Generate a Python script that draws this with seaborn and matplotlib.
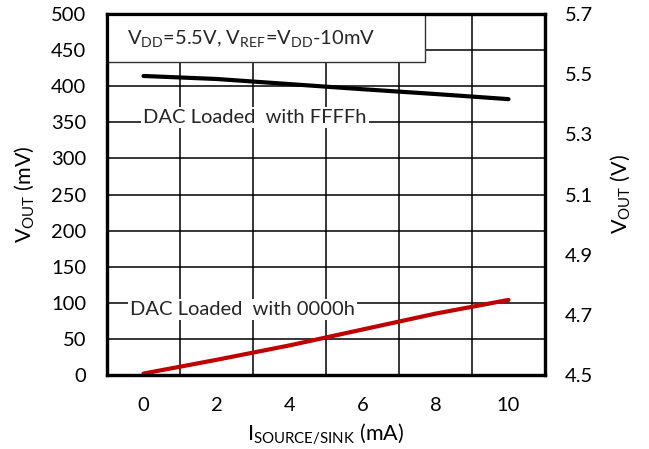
import matplotlib
matplotlib.use("Agg")
import matplotlib.pyplot as plt
import seaborn as sns
import pandas as pd
from matplotlib.patches import Rectangle

# Data
i_ma = [0, 2, 4, 6, 8, 10]
vout_ffff_v = [5.494, 5.484, 5.467, 5.450, 5.434, 5.417]
vout_0000_mv = [2, 21, 41, 63, 85, 104]
x_ticks = [0, 2, 4, 6, 8, 10]
left_ticks = [0, 50, 100, 150, 200, 250, 300, 350, 400, 450, 500]
right_ticks = [4.5, 4.7, 4.9, 5.1, 5.3, 5.5, 5.7]

sns.set_theme(style="white")
plt.rcParams['font.family'] = ['Lato', 'DejaVu Sans']
plt.rcParams['mathtext.fontset'] = 'custom'
plt.rcParams['mathtext.rm'] = 'Lato'
plt.rcParams['mathtext.it'] = 'Lato'
plt.rcParams['mathtext.bf'] = 'Lato'

fig = plt.figure(figsize=(6.49, 4.49), dpi=100)
ax = fig.add_axes([107/649, 1-375/449, 438/649, 361/449])
ax2 = ax.twinx()

df_red = pd.DataFrame({"I": i_ma, "V": vout_0000_mv})
df_blk = pd.DataFrame({"I": i_ma, "V": vout_ffff_v})

sns.lineplot(data=df_red, x="I", y="V", ax=ax, color="#c00000", lw=3.0, zorder=5)
sns.lineplot(data=df_blk, x="I", y="V", ax=ax2, color="black", lw=3.0)

ax.set_xlim(-1, 11)
ax.set_ylim(0, 500)
ax2.set_ylim(4.5, 5.7)
ax.set_xticks(x_ticks)
ax.set_yticks(left_ticks)
ax2.set_yticks(right_ticks)
ax2.set_yticklabels([f"{v:.1f}" for v in right_ticks])

# grid: vertical lines between ticks, horizontal every 50
ax.set_xticks([1, 3, 5, 7, 9], minor=True)
ax.grid(False)
ax.grid(True, which='minor', axis='x', color='black', lw=1.1)
ax.grid(True, which='major', axis='y', color='black', lw=1.1)
ax.set_axisbelow(True)

ax.tick_params(axis='x', which='both', length=0, labelsize=14.5, colors='black', pad=16)
ax.tick_params(axis='y', which='both', length=0, labelsize=14.5, colors='black', pad=15)
ax2.tick_params(axis='y', length=0, labelsize=14.5, colors='black', pad=14)

for a in (ax, ax2):
    for s in a.spines.values():
        s.set_color('black')
        s.set_linewidth(2.3)

ax.set_xlabel(r'I$_{\mathrm{SOURCE/SINK}}$ (mA)', fontsize=15.5, color='black', labelpad=5)
ax.set_ylabel(r'V$_{\mathrm{OUT}}$ (mV)', fontsize=15.5, color='black', labelpad=11)
ax2.set_ylabel(r'V$_{\mathrm{OUT}}$ (V)', fontsize=15.5, color='black', labelpad=11)

# condition box
ax.add_patch(Rectangle((0, 0.867), 0.726, 0.133, transform=ax.transAxes,
                       facecolor='white', edgecolor='#333333', lw=1.0, zorder=3))
ax.text(0.045, 0.933, r'V$_{\mathrm{DD}}$=5.5V, V$_{\mathrm{REF}}$=V$_{\mathrm{DD}}$-10mV',
        transform=ax.transAxes, fontsize=14.5, va='center', ha='left', zorder=4)

ax.text(3.05, 356, 'DAC Loaded  with FFFFh', fontsize=14.5, ha='center', va='center',
        bbox=dict(facecolor='white', edgecolor='none', pad=1.5), zorder=4)
ax.text(2.7, 91, 'DAC Loaded  with 0000h', fontsize=14.5, ha='center', va='center',
        bbox=dict(facecolor='white', edgecolor='none', pad=1.5), zorder=4)

fig.savefig("out.png", dpi=100)
